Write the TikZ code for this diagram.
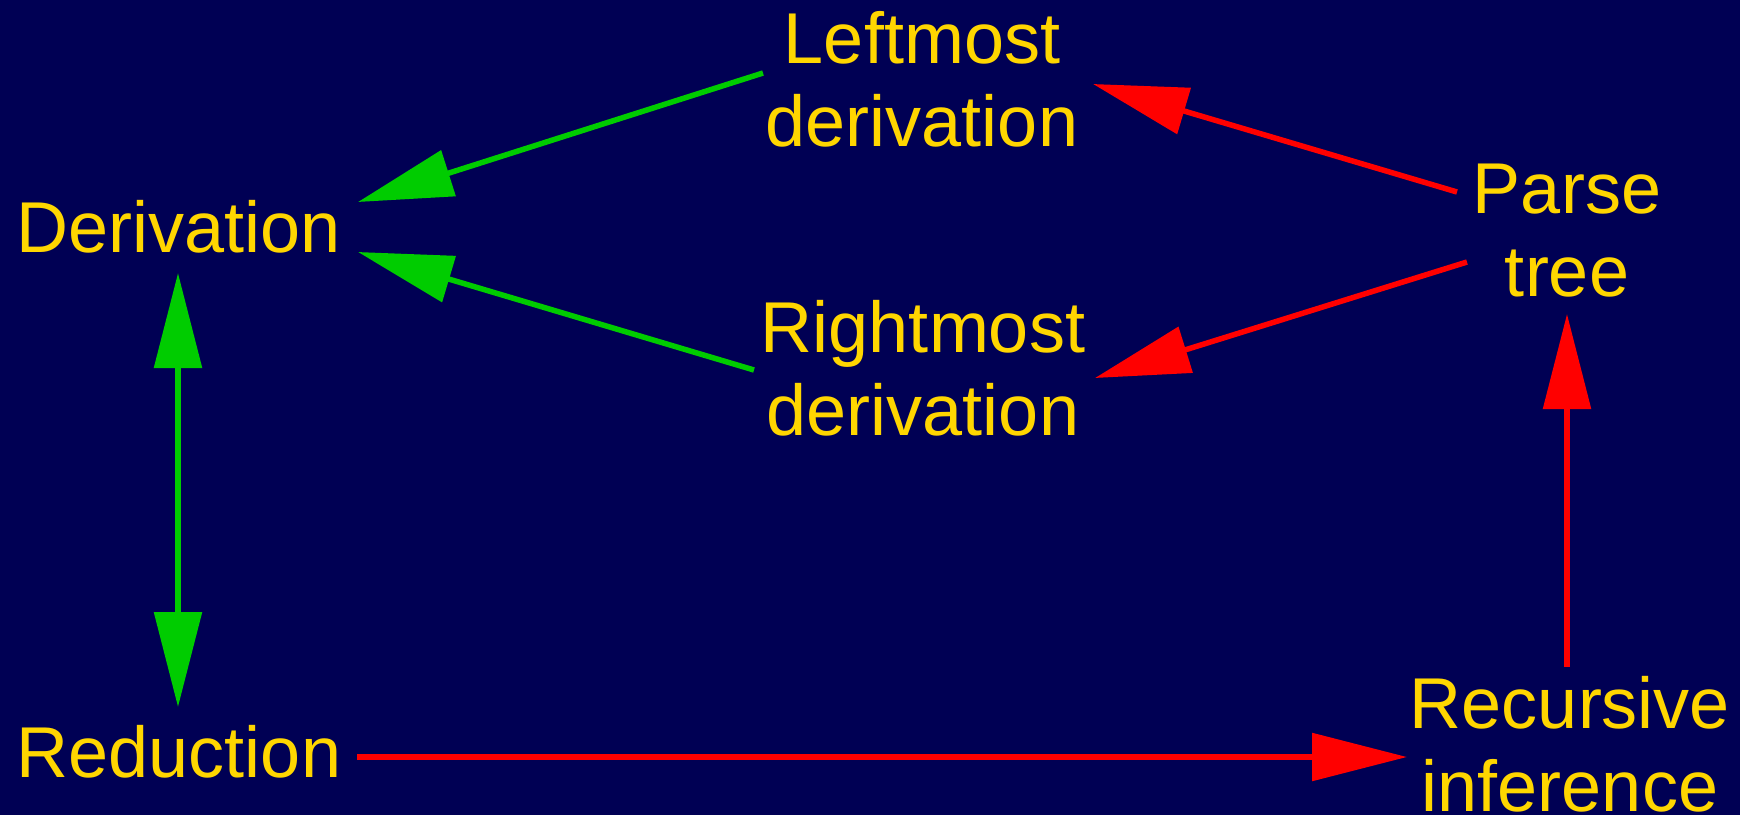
\documentclass[tikz,border=0pt]{standalone}
\usepackage{fontspec}
\setmainfont{Liberation Sans}
\usetikzlibrary{arrows.meta}
\definecolor{bgnavy}{RGB}{0,0,84}
\definecolor{txtgold}{RGB}{255,214,0}
\definecolor{arrgreen}{RGB}{0,204,0}
\definecolor{arrred}{RGB}{255,0,0}
\begin{document}
\begin{tikzpicture}[x=1pt,y=-1pt,
  lbl/.style={anchor=base,inner sep=0pt,text=txtgold,font=\fontsize{72}{83}\selectfont},
  garrow/.style={draw=arrgreen,line width=5.5pt,-{Triangle[length=95pt,width=47pt]}},
  rarrow/.style={draw=arrred,line width=5.5pt,-{Triangle[length=95pt,width=47pt]}},
  gdouble/.style={draw=arrgreen,line width=5.5pt,{Triangle[length=95pt,width=47pt]}-{Triangle[length=95pt,width=47pt]}}]
\useasboundingbox (0,0) rectangle (1740,815);
\fill[bgnavy] (0,0) rectangle (1740,815);
\newcommand{\twolines}[2]{\begin{tabular}[t]{@{}c@{}}#1\\#2\end{tabular}}
% text nodes
\node[lbl] (der) at (179,252) {Derivation};
\node[lbl] (red) at (179,777) {Reduction};
\node[lbl] (lm) at (922,63) {\twolines{Leftmost}{derivation}};
\node[lbl] (rm) at (923,352) {\twolines{Rightmost}{derivation}};
\node[lbl] (pt) at (1567,213) {\twolines{Parse}{tree}};
\node[lbl] (ri) at (1570,728) {\twolines{Recursive}{inference}};
% connector end points
\coordinate (lmL) at (763,73);
\coordinate (rmL) at (754,370);
\coordinate (derA) at (358,202);
\coordinate (derB) at (358,252);
\coordinate (derD) at (178,273);
\coordinate (redU) at (178,707);
\coordinate (redR) at (357,757);
\coordinate (riL) at (1407,757);
\coordinate (riU) at (1567,667);
\coordinate (ptD) at (1567,314);
\coordinate (ptA) at (1457,192);
\coordinate (ptB) at (1467,262);
\coordinate (lmR) at (1093,84);
\coordinate (rmR) at (1095,378);
% connectors
\draw[garrow] (lmL) -- (derA);
\draw[garrow] (rmL) -- (derB);
\draw[gdouble] (derD) -- (redU);
\draw[rarrow] (redR) -- (riL);
\draw[rarrow] (riU) -- (ptD);
\draw[rarrow] (ptA) -- (lmR);
\draw[rarrow] (ptB) -- (rmR);
\end{tikzpicture}
\end{document}
